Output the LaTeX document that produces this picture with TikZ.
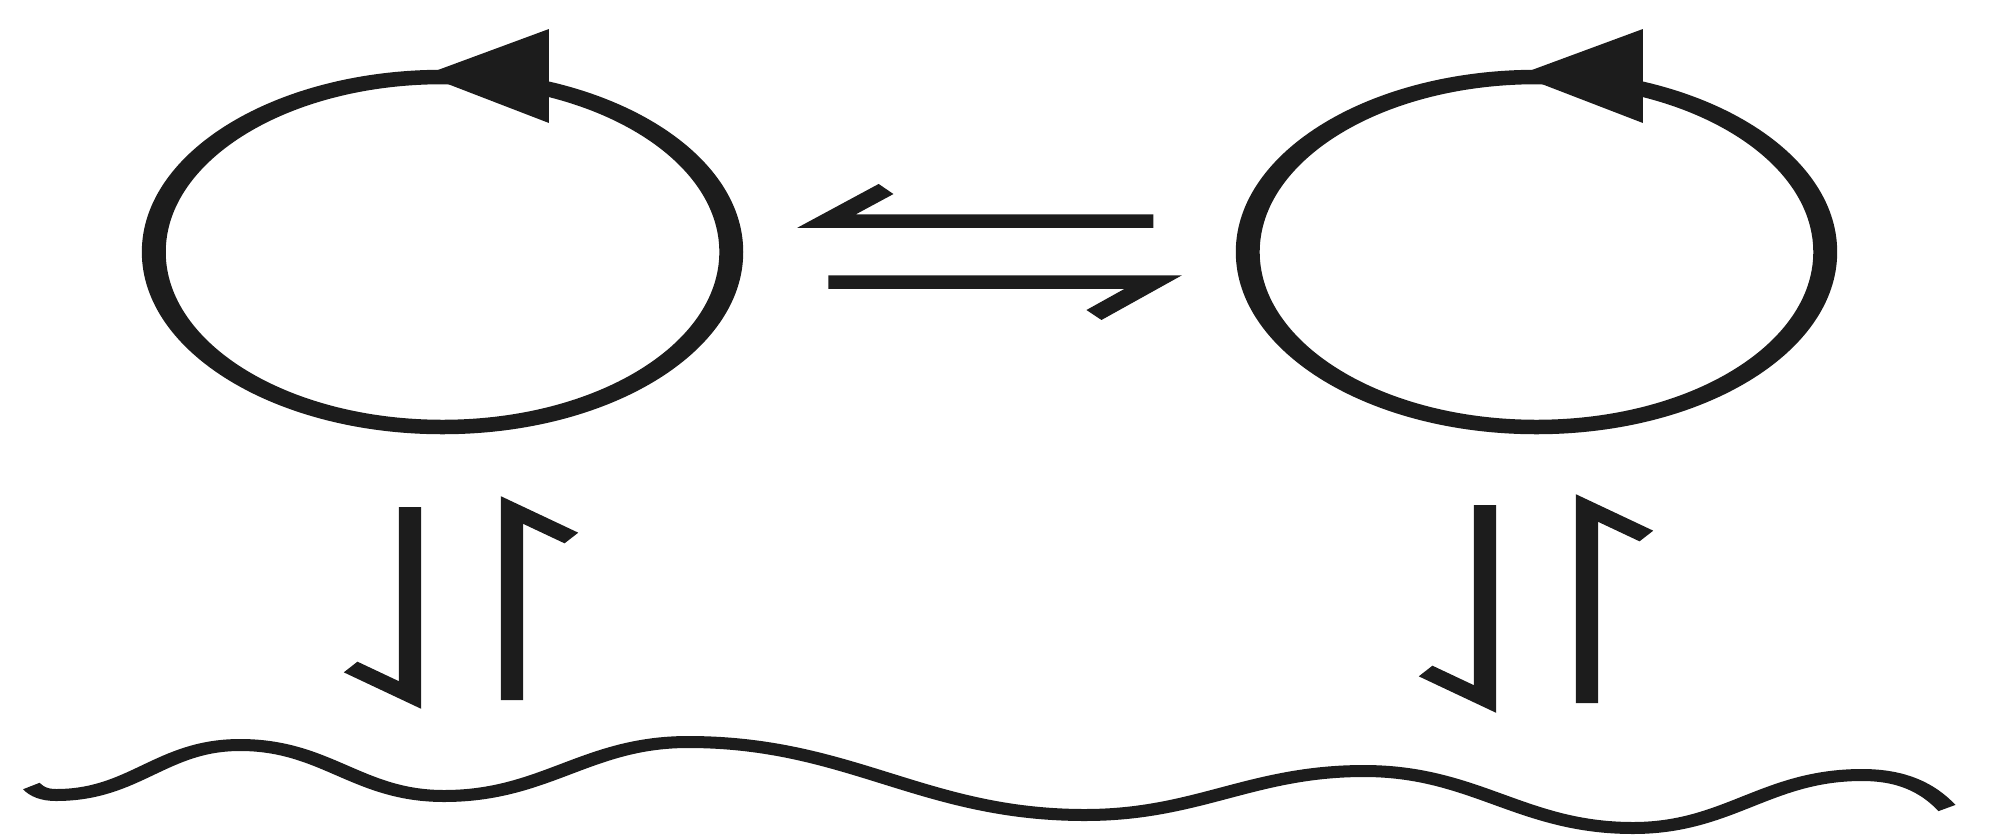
\documentclass[tikz,border=0pt]{standalone}
\usetikzlibrary{calc}
\definecolor{ink}{RGB}{28,28,28}
\tikzset{
  ring/.style={draw=ink, circle, line width=1.45mm, minimum size=3.5cm, inner sep=0pt},
  harp/.style={draw=ink, line width=1.35mm, line join=miter, line cap=butt},
  wave/.style={draw=ink, line width=1.2mm, line cap=butt},
}

\begin{document}
\begin{tikzpicture}
  \useasboundingbox (0,0) rectangle (19.89,8.36);
  % drawn narrow, then stretched sideways
  \begin{scope}[transform canvas={xscale=1.65}]
    \node[ring] (ringl) at (2.682,5.84) {};
    \node[ring] (ringr) at (9.312,5.84) {};
    \foreach \r in {ringl,ringr}
      \fill[ink] ($(\r.center)+(-0.11,1.77)$) -- ($(\r.center)+(0.645,2.23)$)
        -- ($(\r.center)+(0.645,1.29)$) -- cycle;
    % equilibrium between the rings
    \coordinate (eqa) at (6.99,6.15);  \coordinate (eqb) at (5.01,6.15);
    \coordinate (eqc) at (5.02,5.54);  \coordinate (eqd) at (6.99,5.54);
    \draw[harp] (eqa) -- (eqb) -- ++(0.36,0.32);
    \draw[harp] (eqc) -- (eqd) -- ++(-0.36,-0.33);
    % equilibria with the surface
    \coordinate (dla) at (2.485,3.29); \coordinate (dlb) at (2.485,1.41);
    \coordinate (ula) at (3.103,1.36); \coordinate (ulb) at (3.103,3.26);
    \coordinate (dra) at (9.0,3.31);   \coordinate (drb) at (9.0,1.37);
    \coordinate (ura) at (9.618,1.33); \coordinate (urb) at (9.618,3.28);
    \draw[harp] (dla) -- (dlb) -- ++(-0.36,0.28);
    \draw[harp] (ula) -- (ulb) -- ++(0.36,-0.28);
    \draw[harp] (dra) -- (drb) -- ++(-0.36,0.28);
    \draw[harp] (ura) -- (urb) -- ++(0.36,-0.28);
    % surface
    \draw[wave] (0.19,0.50) to[out=-60,in=180] (0.34,0.41)
      to[out=0,in=180] (1.455,0.91) to[out=0,in=180] (2.691,0.40)
      to[out=0,in=180] (4.17,0.94) to[out=0,in=180] (6.576,0.21)
      to[out=0,in=180] (8.267,0.65) to[out=0,in=180] (9.897,0.08)
      to[out=0,in=180] (11.285,0.61) to[out=0,in=120] (11.8,0.28);
  \end{scope}
\end{tikzpicture}
\end{document}
